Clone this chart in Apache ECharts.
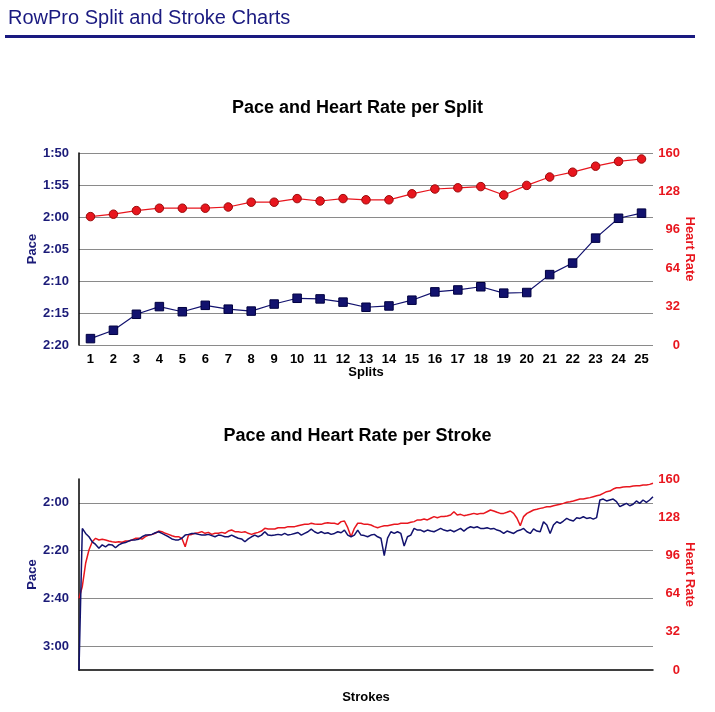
<!DOCTYPE html>
<html><head><meta charset="utf-8">
<script src="https://cdn.jsdelivr.net/npm/echarts@6/dist/echarts.min.js"></script>
<style>html,body{margin:0;padding:0;background:#fff}#c{width:715px;height:712px}</style>
</head><body><div id="c"></div>
<script>
// ---- data ----
const splits = ['1','2','3','4','5','6','7','8','9','10','11','12','13','14','15','16','17','18','19','20','21','22','23','24','25'];
// pace per split, seconds per 500m
const splitPace = [139.0,137.7,135.2,134.0,134.8,133.8,134.4,134.7,133.6,132.7,132.8,133.3,134.1,133.9,133.0,131.7,131.4,130.9,131.9,131.8,129.0,127.2,123.3,120.2,119.4];
const splitHR = [107,109,112,114,114,114,115,119,119,122,120,122,121,121,126,130,131,132,125,133,140,144,149,153,155];

// per-stroke pace (seconds per 500m)
const strokePace = [
190,
130.7,132.8,134.2,136.3,137.4,139.0,137.6,138.4,137.4,137.6,138.8,137.6,136.9,136.6,136.0,135.5,135.5,135.2,134.2,133.5,
133.5,133.2,132.5,132.1,132.8,133.5,134.2,135.1,135.5,135.5,134.8,133.5,133.2,132.8,132.8,133.2,133.5,133.5,133.2,133.7,
134.2,133.5,133.7,134.2,134.2,133.5,134.2,134.8,135.1,136.3,135.1,134.2,133.5,134.2,133.5,132.1,133.5,133.7,133.5,
133.2,133.5,132.8,133.5,133.2,132.8,132.4,133.5,132.8,132.1,131.0,132.1,132.8,132.1,132.8,132.5,133.2,132.8,132.1,132.5,
131.4,133.5,134.2,133.5,131.4,133.5,133.7,134.2,133.5,133.2,134.2,134.8,142.1,134.8,132.1,132.8,132.1,132.8,138.1,134.2,
133.5,130.7,131.4,131.4,132.1,131.4,131.8,132.1,131.4,130.7,131.4,131.8,131.4,132.1,131.4,130.7,131.8,130.7,
130.0,130.4,130.0,130.7,130.7,130.4,130.9,130.7,131.4,131.8,132.8,131.8,132.3,132.8,131.8,131.4,130.7,132.1,132.8,130.9,
131.8,132.1,127.9,129.3,132.8,129.3,127.9,128.6,127.6,126.5,127.2,127.6,126.2,126.5,125.8,126.5,126.2,126.8,126.2,118.8,
118.4,119.2,118.8,118.4,119.5,121.6,120.9,120.2,121.2,120.6,119.2,120.2,118.8,119.8,118.8,117.4
];
// per-stroke heart rate (bpm)
const strokeHR = [
60,
70,89.4,100.5,107.5,110.3,108.9,109.5,108.9,108.1,107.5,107.0,107.5,107.0,108.1,108.1,108.9,110.3,110.3,109.7,111.7,
113.1,113.6,114.5,116.4,115.9,114.5,113.6,112.5,111.7,111.7,110.3,103.3,113.1,113.6,114.5,115.0,115.9,114.5,115.3,113.6,
114.5,114.5,115.3,114.5,116.4,117.3,115.9,115.9,115.3,115.9,114.5,113.6,114.5,115.3,116.4,118.7,118.1,118.1,118.1,
119.2,119.2,119.2,120.1,120.1,120.1,120.9,121.5,122.0,122.0,122.9,122.3,122.0,122.0,122.9,123.4,122.9,122.9,122.0,124.3,
124.8,119.2,111.7,118.7,122.9,122.9,122.0,122.0,121.5,120.1,119.2,120.1,120.9,120.9,121.5,122.0,122.0,122.9,122.9,122.9,
123.7,124.3,125.7,125.7,126.5,125.7,127.1,128.5,127.6,128.5,128.5,129.0,129.8,132.6,129.8,130.4,129.3,129.8,
130.4,131.2,130.4,131.2,131.2,132.6,134.0,133.2,132.1,131.2,131.2,132.1,133.2,131.2,127.1,120.9,128.5,131.2,132.6,134.0,
134.6,135.4,136.0,136.8,136.8,137.6,138.2,138.8,139.6,140.5,141.0,141.6,142.4,143.2,143.2,143.8,144.4,145.2,146.0,146.6,
148.0,149.4,149.9,151.6,152.7,152.7,153.3,153.6,153.6,154.1,154.4,154.4,155.0,155.0,155.5,156.4
];
const strokes = strokePace.map((_, i) => String(i + 1));

// ---- styles ----
const FONT = "'Liberation Sans', Arial, Helvetica, sans-serif";
const NAVY = '#1b1b78';
const LINEBLUE = '#12126e';
const RED = '#e8161e';
const GRID = '#8a8a8a';

function paceFmt(v) {
  const m = Math.floor(v / 60);
  const s = Math.round(v - m * 60);
  return m + ':' + (s < 10 ? '0' : '') + s;
}

const chart = echarts.init(document.getElementById('c'), null, { renderer: 'canvas' });

const leftLabel = { color: NAVY, fontWeight: 'bold', fontSize: 13, fontFamily: FONT, margin: 10 };
const rightLabel = { color: RED, fontWeight: 'bold', fontSize: 13, fontFamily: FONT, margin: 27, align: 'right' };

chart.setOption({
  animation: false,
  textStyle: { fontFamily: FONT },
  title: [
    { text: 'RowPro Split and Stroke Charts', left: 8, top: 8, padding: 0,
      textStyle: { fontSize: 20, fontWeight: 'normal', color: '#1a1a80', fontFamily: FONT } },
    { text: 'Pace and Heart Rate per Split', left: 'center', top: 99, padding: 0,
      textStyle: { fontSize: 18, fontWeight: 'bold', color: '#000', fontFamily: FONT } },
    { text: 'Pace and Heart Rate per Stroke', left: 'center', top: 427, padding: 0,
      textStyle: { fontSize: 18, fontWeight: 'bold', color: '#000', fontFamily: FONT } }
  ],
  graphic: [
    { type: 'rect', shape: { x: 5, y: 35, width: 690, height: 3 }, style: { fill: '#1a1a80' } }
  ],
  grid: [
    { left: 79, top: 153, width: 574, height: 192 },
    { left: 79, top: 479, width: 574, height: 191 }
  ],
  xAxis: [
    { type: 'category', gridIndex: 0, data: splits, boundaryGap: true,
      name: 'Splits', nameLocation: 'middle', nameGap: 21, nameMoveOverlap: false,
      nameTextStyle: { color: '#000', fontWeight: 'bold', fontSize: 13, fontFamily: FONT },
      axisLine: { show: false }, axisTick: { show: false },
      axisLabel: { color: '#000', fontWeight: 'bold', fontSize: 13, fontFamily: FONT, margin: 8, interval: 0 } },
    { type: 'category', gridIndex: 1, data: strokes, boundaryGap: false,
      name: 'Strokes', nameLocation: 'middle', nameGap: 21, nameMoveOverlap: false,
      nameTextStyle: { color: '#000', fontWeight: 'bold', fontSize: 13, fontFamily: FONT },
      axisLine: { show: true, lineStyle: { color: '#000', width: 1.5 } }, axisTick: { show: false },
      axisLabel: { show: false } }
  ],
  yAxis: [
    { type: 'value', gridIndex: 0, position: 'left', inverse: true, min: 110, max: 140, interval: 5,
      name: 'Pace', nameLocation: 'middle', nameGap: 40, nameMoveOverlap: false,
      nameTextStyle: { color: NAVY, fontWeight: 'bold', fontSize: 13, fontFamily: FONT },
      axisLine: { show: true, lineStyle: { color: '#000', width: 1.5 } }, axisTick: { show: false },
      axisLabel: Object.assign({ formatter: paceFmt }, leftLabel),
      splitLine: { show: true, lineStyle: { color: GRID, width: 1 } } },
    { type: 'value', gridIndex: 0, position: 'right', min: 0, max: 160, interval: 32,
      name: 'Heart Rate', nameLocation: 'middle', nameGap: 30, nameRotate: -90, nameMoveOverlap: false,
      nameTextStyle: { color: RED, fontWeight: 'bold', fontSize: 13, fontFamily: FONT },
      axisLine: { show: false }, axisTick: { show: false },
      axisLabel: rightLabel, splitLine: { show: false } },
    { type: 'value', gridIndex: 1, position: 'left', inverse: true, min: 110, max: 190, interval: 10,
      name: 'Pace', nameLocation: 'middle', nameGap: 40, nameMoveOverlap: false,
      nameTextStyle: { color: NAVY, fontWeight: 'bold', fontSize: 13, fontFamily: FONT },
      axisLine: { show: true, lineStyle: { color: '#000', width: 1.5 } }, axisTick: { show: false },
      axisLabel: Object.assign({ formatter: v => (v % 20 === 0 ? paceFmt(v) : '') }, leftLabel),
      splitLine: { show: true, lineStyle: { color: ['rgba(0,0,0,0)', GRID], width: 1 } } },
    { type: 'value', gridIndex: 1, position: 'right', min: 0, max: 160, interval: 32,
      name: 'Heart Rate', nameLocation: 'middle', nameGap: 30, nameRotate: -90, nameMoveOverlap: false,
      nameTextStyle: { color: RED, fontWeight: 'bold', fontSize: 13, fontFamily: FONT },
      axisLine: { show: false }, axisTick: { show: false },
      axisLabel: rightLabel, splitLine: { show: false } }
  ],
  series: [
    { type: 'line', xAxisIndex: 0, yAxisIndex: 1, data: splitHR,
      symbol: 'circle', symbolSize: 8.5,
      lineStyle: { color: RED, width: 1.2 },
      itemStyle: { color: RED, borderColor: '#9a0a0a', borderWidth: 1 } },
    { type: 'line', xAxisIndex: 0, yAxisIndex: 0, data: splitPace,
      symbol: 'rect', symbolSize: 8.5,
      lineStyle: { color: LINEBLUE, width: 1.2 },
      itemStyle: { color: LINEBLUE, borderColor: '#000040', borderWidth: 1 } },
    { type: 'line', xAxisIndex: 1, yAxisIndex: 3, data: strokeHR, showSymbol: false,
      lineStyle: { color: RED, width: 1.5 } },
    { type: 'line', xAxisIndex: 1, yAxisIndex: 2, data: strokePace, showSymbol: false,
      lineStyle: { color: LINEBLUE, width: 1.5 } }
  ]
});
</script>
</body></html>
